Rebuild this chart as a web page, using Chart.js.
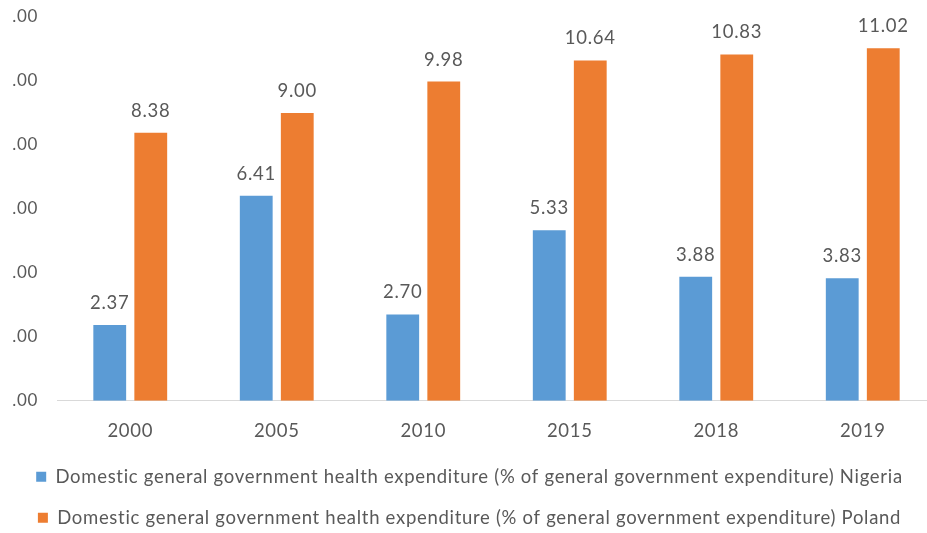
<!DOCTYPE html>
<html>
<head>
<meta charset="utf-8">
<title>Domestic general government health expenditure</title>
<script src="https://cdn.jsdelivr.net/npm/chart.js@4.4.1/dist/chart.umd.min.js"></script>
<style>
    body {
        margin: 0;
        background-color: #ffffff;
        overflow: hidden;
    }
    #frame {
        position: absolute;
        left: 12px;
        top: 0px;
        width: 915px;
        height: 533px;
        overflow: hidden;
    }
    #chartBox {
        position: absolute;
        left: -21px;
        top: 0px;
        width: 957px;
        height: 537px;
    }
</style>
</head>
<body>

<div id="frame">
    <div id="chartBox">
        <canvas id="healthChart"></canvas>
    </div>
</div>

<script>
var years = ['2000', '2005', '2010', '2015', '2018', '2019'];
var nigeria = [2.37, 6.41, 2.70, 5.33, 3.88, 3.83];
var poland = [8.38, 9.00, 9.98, 10.64, 10.83, 11.02];
var yTicks = [0, 2, 4, 6, 8, 10, 12];

var nigeriaLabel = 'Domestic general government health expenditure (% of general government expenditure) Nigeria';
var polandLabel = 'Domestic general government health expenditure (% of general government expenditure) Poland';

var textGrey = '#595959';
var fontFamily = 'Lato, "Open Sans", sans-serif';
var fontSize = 18.5;

// a little tracking so Lato runs as wide as the office font
var tracking = {
    id: 'tracking',
    beforeLayout: function (chart) { chart.ctx.letterSpacing = '0.7px'; },
    beforeDraw: function (chart) { chart.ctx.letterSpacing = '0.7px'; }
};

// numbers above each bar
var valueLabels = {
    id: 'valueLabels',
    afterDatasetsDraw: function (chart) {
        var ctx = chart.ctx;
        ctx.save();
        ctx.font = fontSize + 'px ' + fontFamily;
        ctx.fillStyle = textGrey;
        ctx.textAlign = 'center';
        ctx.textBaseline = 'alphabetic';
        chart.data.datasets.forEach(function (ds, i) {
            chart.getDatasetMeta(i).data.forEach(function (bar, j) {
                ctx.fillText(ds.data[j].toFixed(2), bar.x, bar.y - 16);
            });
        });
        ctx.restore();
    }
};

var ctx = document.getElementById('healthChart').getContext('2d');

var chart = new Chart(ctx, {
    type: 'bar',
    data: {
        labels: years,
        datasets: [{
            label: nigeriaLabel,
            data: nigeria,
            backgroundColor: '#5B9BD5',
            categoryPercentage: 0.56,
            barPercentage: 0.8
        },
        {
            label: polandLabel,
            data: poland,
            backgroundColor: '#ED7D31',
            categoryPercentage: 0.56,
            barPercentage: 0.8
        }]
    },
    options: {
        responsive: true,
        maintainAspectRatio: false,
        animation: false,
        layout: {
            padding: { top: 17, left: 0, right: 0, bottom: 0 }
        },
        scales: {
            x: {
                grid: { display: false },
                border: { display: true, color: '#D9D9D9', width: 1 },
                afterFit: function (scale) {
                    scale.height -= 8;
                },
                ticks: {
                    color: textGrey,
                    font: { family: fontFamily, size: fontSize },
                    padding: 11
                }
            },
            y: {
                min: 0,
                max: 12,
                afterBuildTicks: function (scale) {
                    scale.ticks = yTicks.map(function (v) { return { value: v }; });
                },
                afterFit: function (scale) {
                    scale.width = 66;
                    scale.paddingTop = 0;
                    scale.paddingBottom = 0;
                },
                grid: { display: false },
                border: { display: false },
                ticks: {
                    color: textGrey,
                    font: { family: fontFamily, size: 17 },
                    padding: 11,
                    callback: function (v) { return v.toFixed(2); }
                }
            },
            // empty strip on the right so the legend sits a bit right of the plot centre
            spacer: {
                type: 'linear',
                position: 'right',
                grid: { display: false },
                border: { display: false },
                ticks: { display: false },
                afterFit: function (scale) {
                    scale.width = 12;
                }
            }
        },
        plugins: {
            legend: {
                position: 'bottom',
                labels: {
                    color: textGrey,
                    font: { family: fontFamily, size: fontSize },
                    boxWidth: 10,
                    boxHeight: 10,
                    padding: 22.5
                }
            },
            tooltip: { enabled: false }
        }
    },
    plugins: [tracking, valueLabels]
});
</script>

</body>
</html>
